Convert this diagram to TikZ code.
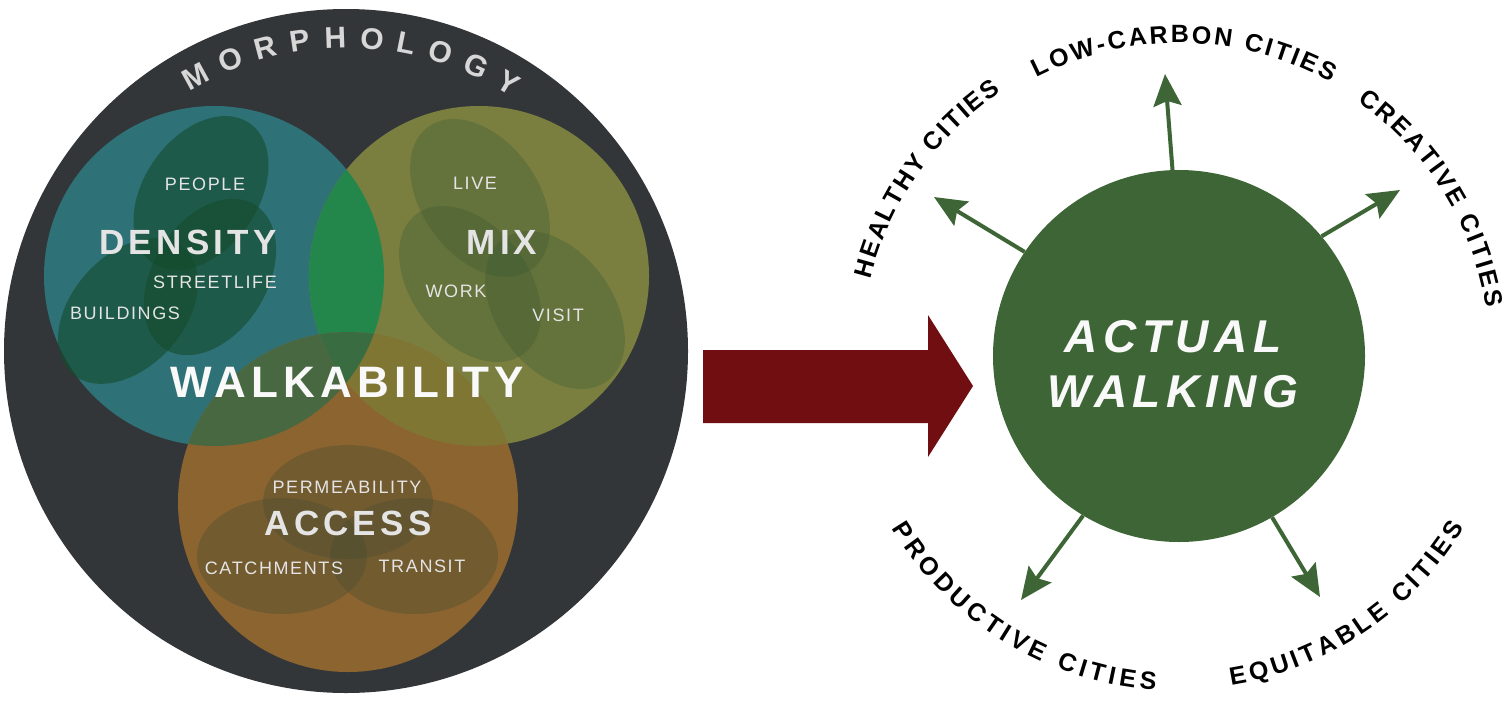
\documentclass[tikz,border=0pt]{standalone}
\usepackage{fontspec}
\setmainfont{Liberation Sans}
\newfontfamily\lblfont[LetterSpace=9]{Liberation Sans}
\newfontfamily\bigfont[LetterSpace=12]{Liberation Sans}
\newfontfamily\plainfont{Liberation Sans}
\usetikzlibrary{calc,arrows.meta,decorations.text}
\definecolor{dark}{RGB}{51,54,57}
\definecolor{teal1}{RGB}{46,113,119}
\definecolor{olive1}{RGB}{122,127,64}
\definecolor{orange1}{RGB}{140,100,48}
\definecolor{tealolive}{RGB}{35,135,75}
\definecolor{tealorange}{RGB}{72,104,66}
\definecolor{oliveorange}{RGB}{128,118,52}
\definecolor{triple}{RGB}{58,108,66}
\definecolor{ellD}{RGB}{20,75,45}
\definecolor{ellM}{RGB}{60,90,50}
\definecolor{ellA}{RGB}{70,75,50}
\definecolor{txt}{RGB}{228,228,228}
\definecolor{walkgreen}{RGB}{61,101,54}
\definecolor{redarrow}{RGB}{112,14,18}
\definecolor{morph}{RGB}{215,215,215}
\tikzset{
  lbl/.style={text=txt, inner sep=0pt, font=\lblfont\fontsize{18}{20}\selectfont},
  biglbl/.style={text=txt, inner sep=0pt, font=\bigfont\bfseries\fontsize{35}{40}\selectfont},
  walklbl/.style={text=white!95!gray, inner sep=0pt, font=\bigfont\bfseries\fontsize{44}{48}\selectfont},
  ellDs/.style={fill=ellD, fill opacity=.6},
  ellMs/.style={fill=ellM, fill opacity=.35},
  ellAs/.style={fill=ellA, fill opacity=.35},
  garrow/.style={draw=walkgreen, line width=4pt, -{Stealth[length=32pt,width=28pt,inset=5pt]}},
  arctext/.style={decorate, decoration={text along path, text align={fit to path}, text color=black}},
}
\begin{document}
\begin{tikzpicture}[x=1pt,y=1pt]
\useasboundingbox (0,0) rectangle (1511,-704);
\fill[white] (0,0) rectangle (1511,-704);
% ---------- left: morphology ----------
\coordinate (oc) at (346,-351);
\coordinate (cD) at (214,-276);
\coordinate (cM) at (479,-276);
\coordinate (cA) at (348,-502);
\fill[dark] (oc) circle[radius=342];
\fill[teal1] (cD) circle[radius=170];
\fill[olive1] (cM) circle[radius=170];
\fill[orange1] (cA) circle[radius=170];
\begin{scope}
  \clip (cD) circle[radius=170];
  \fill[tealolive] (cM) circle[radius=170];
  \fill[tealorange] (cA) circle[radius=170];
\end{scope}
\begin{scope}
  \clip (cM) circle[radius=170];
  \fill[oliveorange] (cA) circle[radius=170];
\end{scope}
\begin{scope}
  \clip (cD) circle[radius=170];
  \clip (cM) circle[radius=170];
  \fill[triple] (cA) circle[radius=170];
\end{scope}
% density ellipses
\fill[ellDs, rotate around={55:(201,-193)}] (201,-193) ellipse[x radius=85, y radius=57];
\fill[ellDs, rotate around={58:(210,-277)}] (210,-277) ellipse[x radius=85, y radius=57];
\fill[ellDs, rotate around={48:(128,-311)}] (128,-311) ellipse[x radius=84, y radius=56];
% mix ellipses
\fill[ellMs, rotate around={126:(480,-198)}] (480,-198) ellipse[x radius=88, y radius=58];
\fill[ellMs, rotate around={128:(470,-284)}] (470,-284) ellipse[x radius=88, y radius=58];
\fill[ellMs, rotate around={126:(555,-310)}] (555,-310) ellipse[x radius=88, y radius=58];
% access ellipses
\fill[ellAs] (348,-502) ellipse[x radius=85, y radius=57];
\fill[ellAs] (282,-556) ellipse[x radius=85, y radius=58];
\fill[ellAs] (414,-556) ellipse[x radius=84, y radius=58];
% texts
\node[lbl] (people) at (205,-184) {PEOPLE};
\node[biglbl] (density) at (188,-242) {DENSITY};
\node[lbl] (street) at (215,-282) {STREETLIFE};
\node[lbl] (build) at (125,-313) {BUILDINGS};
\node[lbl] (live) at (475,-183) {LIVE};
\node[biglbl] (mix) at (502,-242) {MIX};
\node[lbl] (work) at (456,-291) {WORK};
\node[lbl] (visit) at (558,-315) {VISIT};
\node[walklbl] (walk) at (347,-382) {WALKABILITY};
\node[lbl] (perm) at (347,-487) {PERMEABILITY};
\node[biglbl] (access) at (348,-523) {ACCESS};
\node[lbl] (catch) at (274,-568) {CATCHMENTS};
\node[lbl] (transit) at (422,-566) {TRANSIT};
\path[arctext, decoration={text={|\plainfont\bfseries\fontsize{30}{32}\selectfont|MORPHOLOGY}, text color=morph}]
  ($(oc)+(121:303)$) arc[start angle=121, end angle=57, radius=303];
% ---------- big red arrow ----------
\fill[redarrow] (703,-350) -- (928,-350) -- (928,-315) -- (973,-386) -- (928,-457) -- (928,-423) -- (703,-423) -- cycle;
% ---------- right: actual walking ----------
\node[circle, fill=walkgreen, minimum size=372pt, inner sep=0pt] (aw) at (1179,-356) {};
\node[align=center, text=white!95!gray, inner sep=0pt, font=\bigfont\bfseries\itshape\fontsize{46}{55}\selectfont] (awt) at (1173,-364) {ACTUAL\\WALKING};
\coordinate (tU) at (1165,-74);
\coordinate (tUL) at (934,-197);
\coordinate (tUR) at (1400,-190);
\coordinate (tLL) at (1021,-600);
\coordinate (tLR) at (1320,-597);
\draw[garrow] (aw.92) -- (tU);
\draw[garrow] (aw.146) -- (tUL);
\draw[garrow] (aw.40) -- (tUR);
\draw[garrow] (aw.239) -- (tLL);
\draw[garrow] (aw.300) -- (tLR);
\path[arctext, decoration={text={|\plainfont\bfseries\fontsize{25}{27}\selectfont|HEALTHY CITIES}}]
  ($(aw.center)+(166:318)$) arc[start angle=166, end angle=124, radius=318];
\path[arctext, decoration={text={|\plainfont\bfseries\fontsize{25}{27}\selectfont|LOW-CARBON CITIES}}]
  ($(aw.center)+(117:313)$) arc[start angle=117, end angle=61, radius=313];
\path[arctext, decoration={text={|\plainfont\bfseries\fontsize{25}{27}\selectfont|CREATIVE CITIES}}]
  ($(aw.center)+(55:311)$) arc[start angle=55, end angle=9, radius=311];
\path[arctext, decoration={text={|\plainfont\bfseries\fontsize{25}{27}\selectfont|PRODUCTIVE CITIES}}]
  ($(aw.center)+(211:335)$) arc[start angle=211, end angle=266, radius=335];
\path[arctext, decoration={text={|\plainfont\bfseries\fontsize{25}{27}\selectfont|EQUITABLE CITIES}}]
  ($(aw.center)+(279:333)$) arc[start angle=279, end angle=329, radius=333];
\end{tikzpicture}
\end{document}
